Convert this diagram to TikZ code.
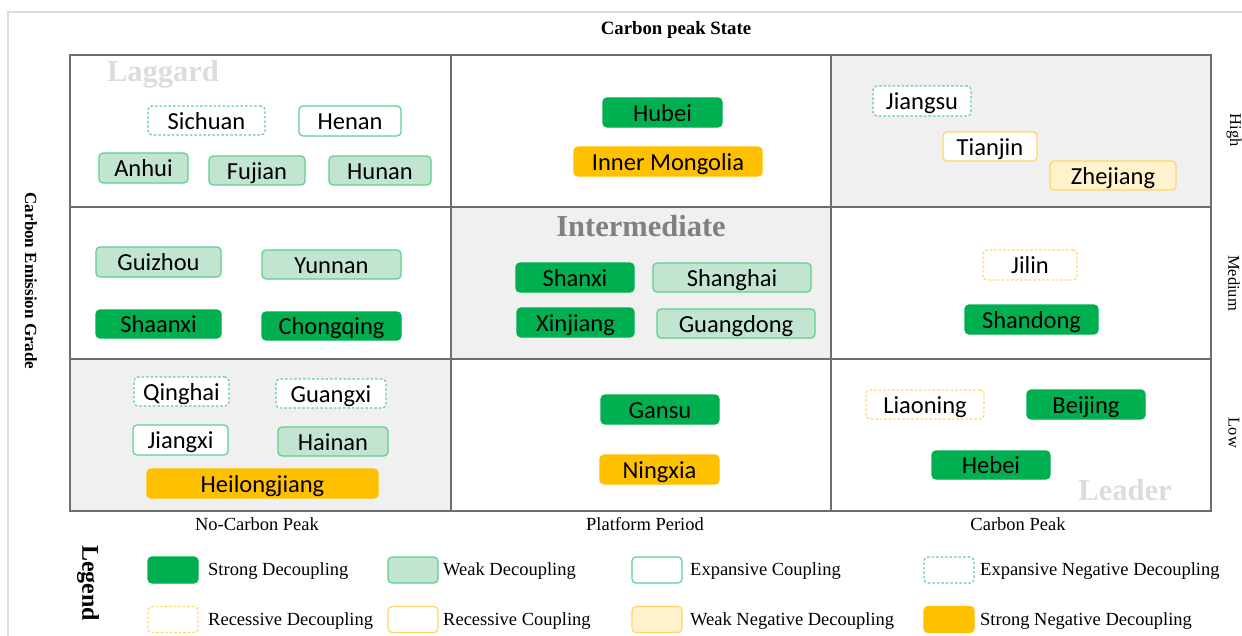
\documentclass[tikz,border=0pt]{standalone}
\usepackage{fontspec}
\setmainfont{Liberation Serif}
\newfontfamily\carlito{Carlito}
\definecolor{sgreen}{RGB}{0,176,80}
\definecolor{wgreen}{RGB}{194,229,210}
\definecolor{lgreen}{RGB}{96,206,140}
\definecolor{lyellow}{RGB}{255,214,102}
\definecolor{wyellow}{RGB}{255,242,204}
\definecolor{sorange}{RGB}{255,192,0}
\definecolor{cellgray}{RGB}{240,240,240}
\definecolor{gridgray}{RGB}{110,110,110}
\definecolor{framegray}{RGB}{220,220,220}
\definecolor{midgray}{RGB}{128,128,128}
\begin{document}
\begin{tikzpicture}[x=1pt,y=-1pt,
  bx/.style={rectangle, rounded corners=4pt, line width=1.2pt, inner sep=0pt,
    text height=17.8pt, text depth=0pt,
    font=\carlito\fontsize{24.5}{29}\selectfont, text=black},
  dsh/.style={dash pattern=on 2.5pt off 2pt},
  sd/.style={bx, fill=sgreen, draw=sgreen},
  wd/.style={bx, fill=wgreen, draw=lgreen},
  ec/.style={bx, fill=white, draw=lgreen},
  en/.style={bx, fill=white, draw=lgreen, dsh},
  rd/.style={bx, fill=white, draw=lyellow, dsh},
  rc/.style={bx, fill=white, draw=lyellow},
  wn/.style={bx, fill=wyellow, draw=lyellow},
  sn/.style={bx, fill=sorange, draw=sorange},
  lab/.style={font=\fontsize{18.5}{21}\selectfont, inner sep=0pt},
  blab/.style={font=\bfseries\fontsize{18.8}{21}\selectfont, inner sep=0pt},
  big/.style={font=\bfseries\fontsize{30.5}{34}\selectfont, inner sep=0pt},
  sw/.style={minimum width=50pt, minimum height=26pt},
  lt/.style={lab, anchor=west}
]
\useasboundingbox (0,0) rectangle (1242,635);
\fill[white] (0,0) rectangle (1242,635);
% outer frame
\draw[framegray, line width=1.5pt] (1242,12) -- (8,12) -- (8,640);
% shaded cells
\fill[cellgray] (831,55) rectangle (1211,207);
\fill[cellgray] (451,207) rectangle (831,359);
\fill[cellgray] (70,359) rectangle (451,511);
% grid
\draw[gridgray, line width=1.3pt] (70,55) rectangle (1211,511);
\draw[gridgray, line width=1.3pt] (451,55) -- (451,511) (831,55) -- (831,511)
  (70,207) -- (1211,207) (70,359) -- (1211,359);
% axis titles
\node[blab] (title) at (676,30) {Carbon peak State};
\node[blab, rotate=-90, font=\bfseries\fontsize{17}{20}\selectfont] (ylab) at (31,281) {Carbon Emission Grade};
\node[lab, rotate=-90, font=\fontsize{16.5}{20}\selectfont] (high) at (1234,130) {High};
\node[lab, rotate=-90, font=\fontsize{16.5}{20}\selectfont] (medium) at (1234,283) {Medium};
\node[lab, rotate=-90, font=\fontsize{16.5}{20}\selectfont] (low) at (1234,433) {Low};
\node[lab] (c1) at (257,524) {No-Carbon Peak};
\node[lab] (c2) at (645,524) {Platform Period};
\node[lab] (c3) at (1018,524) {Carbon Peak};
% region names
\node[big, text=framegray] (laggard) at (163,74) {Laggard};
\node[big, text=midgray] (intermediate) at (641,226) {Intermediate};
\node[big, text=framegray] (leader) at (1125,490) {Leader};
% provinces
\node[en, minimum width=117pt, minimum height=29pt] (sichuan) at (206.5,120.5) {Sichuan};
\node[ec, minimum width=102pt, minimum height=30pt] (henan) at (350,121) {Henan};
\node[wd, minimum width=89pt, minimum height=30pt] (anhui) at (143.5,168) {Anhui};
\node[wd, minimum width=96pt, minimum height=29pt] (fujian) at (257,170.5) {Fujian};
\node[wd, minimum width=102pt, minimum height=29pt] (hunan) at (380,170.5) {Hunan};
\node[sd, minimum width=119pt, minimum height=29pt] (hubei) at (662.5,112.5) {Hubei};
\node[sn, minimum width=188pt, minimum height=29pt] (innermongolia) at (668,161.5) {Inner Mongolia};
\node[en, minimum width=98pt, minimum height=30pt] (jiangsu) at (922,101) {Jiangsu};
\node[rc, minimum width=94pt, minimum height=29pt] (tianjin) at (990,146.5) {Tianjin};
\node[wn, minimum width=126pt, minimum height=29pt] (zhejiang) at (1113,175.5) {Zhejiang};
\node[wd, minimum width=125pt, minimum height=30pt] (guizhou) at (158.5,262) {Guizhou};
\node[wd, minimum width=139pt, minimum height=29pt] (yunnan) at (331.5,264.5) {Yunnan};
\node[sd, minimum width=125pt, minimum height=28pt] (shaanxi) at (158.5,324) {Shaanxi};
\node[sd, minimum width=139pt, minimum height=28pt] (chongqing) at (331.5,326) {Chongqing};
\node[sd, minimum width=118pt, minimum height=29pt] (shanxi) at (575,277.5) {Shanxi};
\node[wd, minimum width=158pt, minimum height=29pt] (shanghai) at (732,277.5) {Shanghai};
\node[sd, minimum width=117pt, minimum height=29pt] (xinjiang) at (575.5,322.5) {Xinjiang};
\node[wd, minimum width=158pt, minimum height=29pt] (guangdong) at (736,323.5) {Guangdong};
\node[rd, minimum width=94pt, minimum height=30pt] (jilin) at (1030,265) {Jilin};
\node[sd, minimum width=133pt, minimum height=29pt] (shandong) at (1031.5,319.5) {Shandong};
\node[en, minimum width=95pt, minimum height=29pt] (qinghai) at (181.5,391.5) {Qinghai};
\node[en, minimum width=110pt, minimum height=29pt] (guangxi) at (331,393.5) {Guangxi};
\node[ec, minimum width=95pt, minimum height=30pt] (jiangxi) at (180.5,440) {Jiangxi};
\node[wd, minimum width=110pt, minimum height=29pt] (hainan) at (333,441.5) {Hainan};
\node[sn, minimum width=231pt, minimum height=29pt] (heilongjiang) at (262.5,483.5) {Heilongjiang};
\node[sd, minimum width=118pt, minimum height=29pt] (gansu) at (660,409.5) {Gansu};
\node[sn, minimum width=119pt, minimum height=29pt] (ningxia) at (659.5,469.5) {Ningxia};
\node[rd, minimum width=118pt, minimum height=29pt] (liaoning) at (925,404.5) {Liaoning};
\node[sd, minimum width=118pt, minimum height=29pt] (beijing) at (1086,404.5) {Beijing};
\node[sd, minimum width=118pt, minimum height=28pt] (hebei) at (991,465) {Hebei};
% legend
\node[blab, rotate=-90, font=\bfseries\fontsize{24}{28}\selectfont] (legend) at (88,583) {Legend};
\node[sd, sw] (s1) at (173,570) {};
\node[wd, sw] (s2) at (413,570) {};
\node[ec, sw] (s3) at (657,570) {};
\node[en, sw] (s4) at (949,570) {};
\node[rd, sw] (s5) at (173,619.5) {};
\node[rc, sw] (s6) at (413,619.5) {};
\node[wn, sw] (s7) at (657,619.5) {};
\node[sn, sw] (s8) at (949,619.5) {};
\node[lt] (t1) at (208,571.5) {Strong Decoupling};
\node[lt] (t2) at (443,571.5) {Weak Decoupling};
\node[lt] (t3) at (690,571.5) {Expansive Coupling};
\node[lt] (t4) at (980,571.5) {Expansive Negative Decoupling};
\node[lt] (t5) at (208,621.5) {Recessive Decoupling};
\node[lt] (t6) at (443,621.5) {Recessive Coupling};
\node[lt] (t7) at (690,621.5) {Weak Negative Decoupling};
\node[lt] (t8) at (980,621.5) {Strong Negative Decoupling};
\end{tikzpicture}
\end{document}
